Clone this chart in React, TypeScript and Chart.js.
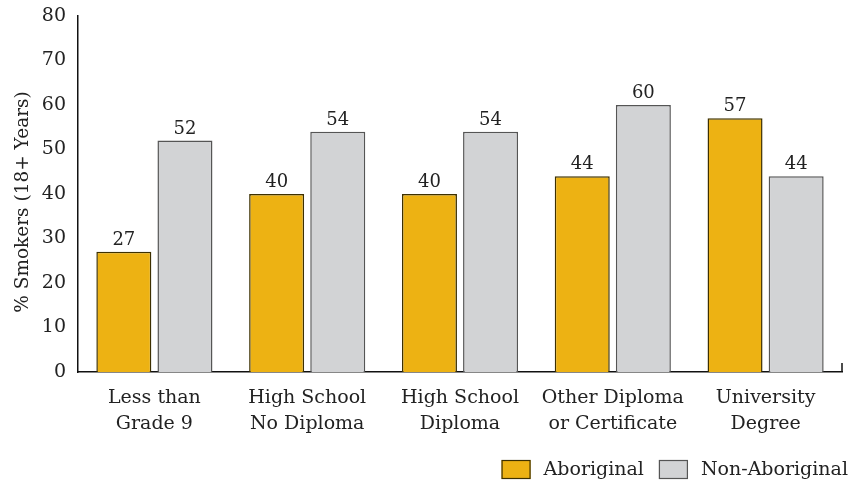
import React, { useEffect, useRef } from "react";
import { Chart, registerables } from "chart.js";

Chart.register(...registerables);

const categories: string[][] = [
  ["Less than", "Grade 9"],
  ["High School", "No Diploma"],
  ["High School", "Diploma"],
  ["Other Diploma", "or Certificate"],
  ["University", "Degree"],
];
const aboriginal: number[] = [27, 40, 40, 44, 57];
const nonAboriginal: number[] = [52, 54, 54, 60, 44];
const yTicks: number[] = [0, 10, 20, 30, 40, 50, 60, 70, 80];
const yTitle = "% Smokers (18+ Years)";

const FONT = "'DejaVu Serif', serif";
const TEXT = "#222";

const valueLabels = {
  id: "valueLabels",
  afterDatasetsDraw(chart: any) {
    const ctx = chart.ctx;
    ctx.save();
    ctx.font = `18px ${FONT}`;
    ctx.fillStyle = TEXT;
    ctx.textAlign = "center";
    ctx.textBaseline = "alphabetic";
    chart.data.datasets.forEach((ds: any, i: number) => {
      const meta = chart.getDatasetMeta(i);
      meta.data.forEach((bar: any, j: number) => {
        ctx.fillText(String(ds.data[j]), bar.x, bar.y - 7);
      });
    });
    ctx.restore();
  },
};

// y-axis title and the small end tick of the x axis
const axisExtras = {
  id: "axisExtras",
  afterDraw(chart: any) {
    const ctx = chart.ctx;
    const a = chart.chartArea;
    ctx.save();
    ctx.font = `18.5px ${FONT}`;
    ctx.fillStyle = TEXT;
    ctx.translate(23, (a.top + a.bottom) / 2 + 8);
    ctx.rotate(-Math.PI / 2);
    ctx.textAlign = "center";
    ctx.textBaseline = "middle";
    ctx.fillText(yTitle, 0, 0);
    ctx.restore();
    ctx.save();
    ctx.strokeStyle = "#111";
    ctx.lineWidth = 1.5;
    ctx.beginPath();
    ctx.moveTo(a.right, a.bottom);
    ctx.lineTo(a.right, a.bottom - 9);
    ctx.stroke();
    ctx.restore();
  },
};

// Legend drawn at the bottom-right, built from the datasets
const customLegend = {
  id: "customLegend",
  afterDraw(chart: any) {
    const ctx = chart.ctx;
    ctx.save();
    ctx.font = `19px ${FONT}`;
    const boxW = 29;
    const boxH = 19;
    const gapBoxText = 13;
    const gapItems = 15;
    const ds = chart.data.datasets;
    const widths = ds.map((d: any) => boxW + gapBoxText + ctx.measureText(d.label).width);
    const total = widths.reduce((a: number, b: number) => a + b, 0) + gapItems * (ds.length - 1);
    let x = chart.width - total;
    const top = 460;
    ds.forEach((d: any, i: number) => {
      ctx.fillStyle = d.backgroundColor;
      ctx.fillRect(x, top, boxW, boxH);
      ctx.strokeStyle = d.borderColor;
      ctx.lineWidth = 1.2;
      ctx.strokeRect(x + 0.5, top + 0.5, boxW - 1, boxH - 1);
      ctx.fillStyle = TEXT;
      ctx.textAlign = "left";
      ctx.textBaseline = "middle";
      ctx.fillText(d.label, x + boxW + gapBoxText, top + boxH / 2 + 1);
      x += widths[i] + gapItems;
    });
    ctx.restore();
  },
};

export default function App() {
  const ref = useRef<HTMLCanvasElement | null>(null);
  useEffect(() => {
    if (!ref.current) return;
    const chart = new Chart(ref.current, {
      type: "bar",
      data: {
        labels: categories,
        datasets: [
          {
            label: "Aboriginal",
            data: aboriginal,
            backgroundColor: "#EDB213",
            borderColor: "#3d3000",
            borderWidth: 1.5,
          },
          {
            label: "Non-Aboriginal",
            data: nonAboriginal,
            backgroundColor: "#D2D3D5",
            borderColor: "#555555",
            borderWidth: 1.5,
          },
        ],
      },
      options: {
        animation: false,
        responsive: false,
        maintainAspectRatio: false,
        layout: { padding: { top: 16, right: 6, left: 0, bottom: 45 } },
        plugins: {
          legend: { display: false },
          tooltip: { enabled: false },
        },
        scales: {
          x: {
            grid: { display: false, drawTicks: false },
            border: { color: "#111", width: 1.5 },
            ticks: {
              color: TEXT,
              font: { family: FONT, size: 19, lineHeight: 1.32 },
              padding: 14,
              maxRotation: 0,
              autoSkip: false,
            },
            afterFit: (s: any) => {
              s.height = 70;
              s.paddingLeft = 0;
              s.paddingRight = 0;
            },
          },
          y: {
            min: 0,
            max: 80,
            afterBuildTicks: (s: any) => {
              s.ticks = yTicks.map((v) => ({ value: v }));
            },
            grid: { display: false, drawTicks: false },
            border: { color: "#111", width: 1.5 },
            ticks: {
              color: TEXT,
              font: { family: FONT, size: 19 },
              padding: 12,
            },
            title: { display: false },
            afterFit: (s: any) => {
              s.width = 78;
              s.paddingTop = 0;
              s.paddingBottom = 0;
            },
          },
        },
      },
      plugins: [valueLabels, axisExtras, customLegend],
    });
    return () => chart.destroy();
  }, []);
  return (
    <div style={{ position: "fixed", left: 0, top: 0, width: 848, height: 487, background: "#fff" }}>
      <canvas ref={ref} width={848} height={487} />
    </div>
  );
}
